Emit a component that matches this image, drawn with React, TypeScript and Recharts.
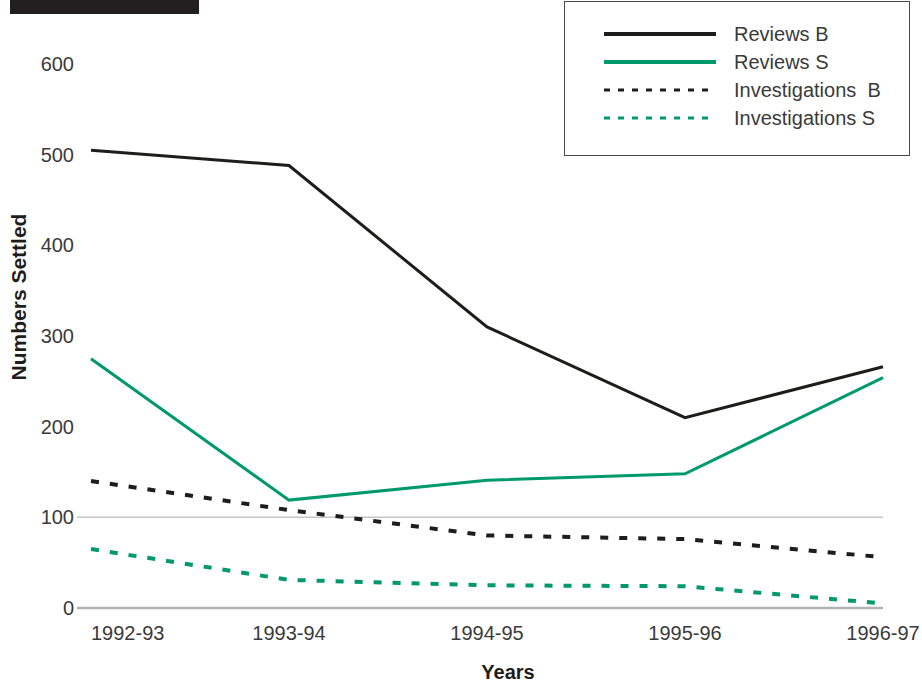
import { Legend, Line, LineChart, ReferenceLine, XAxis, YAxis } from "recharts";

const YEARS = ["1992-93", "1993-94", "1994-95", "1995-96", "1996-97"];
const REVIEWS_B = [505, 488, 310, 210, 266];
const REVIEWS_S = [275, 119, 141, 148, 254];
const INVESTIGATIONS_B = [140, 108, 80, 76, 56];
const INVESTIGATIONS_S = [65, 31, 25, 24, 5];
const Y_TICKS = [0, 100, 200, 300, 400, 500, 600];

const BLACK = "#1d1d1b";
const GREEN = "#00996b";
const TEXT = "#3a3a3a";
const FONT = "'Liberation Sans', Arial, sans-serif";

const SERIES = [
  { key: "reviewsB", name: "Reviews B", color: BLACK, dashed: false },
  { key: "reviewsS", name: "Reviews S", color: GREEN, dashed: false },
  { key: "investigationsB", name: "Investigations  B", color: BLACK, dashed: true },
  { key: "investigationsS", name: "Investigations S", color: GREEN, dashed: true },
];

const data = YEARS.map((year, i) => ({
  year,
  reviewsB: REVIEWS_B[i],
  reviewsS: REVIEWS_S[i],
  investigationsB: INVESTIGATIONS_B[i],
  investigationsS: INVESTIGATIONS_S[i],
}));

function YearTick({ x, y, payload, index }: any) {
  return (
    <text
      x={x}
      y={y + 32}
      textAnchor={index === 0 ? "start" : "middle"}
      fill={TEXT}
      fontSize={20}
      fontFamily={FONT}
    >
      {payload.value}
    </text>
  );
}

// legend keeps the series order rather than the default alphabetical sort
function LegendBox({ payload }: any) {
  const entries = payload ?? [];
  const ordered = SERIES.map((s) => ({
    s,
    entry: entries.find((e: any) => e.dataKey === s.key),
  })).filter((d) => d.entry);
  return (
    <div
      style={{
        width: 346,
        height: 155,
        boxSizing: "border-box",
        border: "1.5px solid #4a4a4a",
        background: "#fff",
      }}
    >
      <svg width={343} height={152}>
        {ordered.map(({ s, entry }, i) => {
          const cy = 32 + i * 28;
          return (
            <g key={s.key}>
              <line
                x1={39}
                x2={151}
                y1={cy}
                y2={cy}
                stroke={entry.color}
                strokeWidth={s.dashed ? 3 : 4}
                strokeDasharray={s.dashed ? "6 8" : undefined}
              />
              <text
                x={169}
                y={cy}
                dominantBaseline="central"
                fill={TEXT}
                fontSize={20}
                fontFamily={FONT}
                style={{ whiteSpace: "pre" }}
              >
                {entry.value}
              </text>
            </g>
          );
        })}
      </svg>
    </div>
  );
}

export default function App() {
  return (
    <div
      style={{
        position: "absolute",
        left: 0,
        top: 0,
        width: 922,
        height: 684,
        background: "#fff",
        fontFamily: FONT,
      }}
    >
      <div
        style={{ position: "absolute", left: 10, top: 0, width: 189, height: 14, background: "#231f20" }}
      />
      <LineChart
        width={922}
        height={684}
        data={data}
        margin={{ top: 64, right: 39, bottom: 16, left: 27 }}
      >
        <XAxis
          dataKey="year"
          axisLine={false}
          tickLine={false}
          tickSize={0}
          tickMargin={0}
          interval={0}
          height={60}
          padding={{ left: 14, right: 0 }}
          tick={<YearTick />}
          label={{
            content: () => (
              <text
                x={508}
                y={679}
                textAnchor="middle"
                fontSize={20}
                fontWeight="bold"
                fontFamily={FONT}
                fill={BLACK}
              >
                Years
              </text>
            ),
          }}
        />
        <YAxis
          domain={[0, 600]}
          ticks={Y_TICKS}
          axisLine={false}
          tickLine={false}
          tickSize={0}
          tickMargin={3}
          width={50}
          tick={{ fill: TEXT, fontSize: 20, fontFamily: FONT }}
          label={{
            content: () => (
              <text
                x={18}
                y={297}
                transform="rotate(-90 18 297)"
                textAnchor="middle"
                dominantBaseline="central"
                fontSize={21}
                fontWeight="bold"
                fontFamily={FONT}
                fill={BLACK}
              >
                Numbers Settled
              </text>
            ),
          }}
        />
        <ReferenceLine y={100} stroke="#c4c4c4" strokeWidth={1.5} />
        <ReferenceLine y={0} stroke="#b2b2b6" strokeWidth={2.5} />
        {SERIES.map((s) => (
          <Line
            key={s.key}
            dataKey={s.key}
            name={s.name}
            type="linear"
            stroke={s.color}
            strokeWidth={s.dashed ? 4 : 3}
            strokeDasharray={s.dashed ? "8 11" : undefined}
            dot={false}
            activeDot={false}
            isAnimationActive={false}
          />
        ))}
        <Legend
          layout="horizontal"
          verticalAlign="middle"
          align="center"
          content={<LegendBox />}
          wrapperStyle={{ left: 564, top: 1, width: 346, height: 155 }}
        />
      </LineChart>
    </div>
  );
}
